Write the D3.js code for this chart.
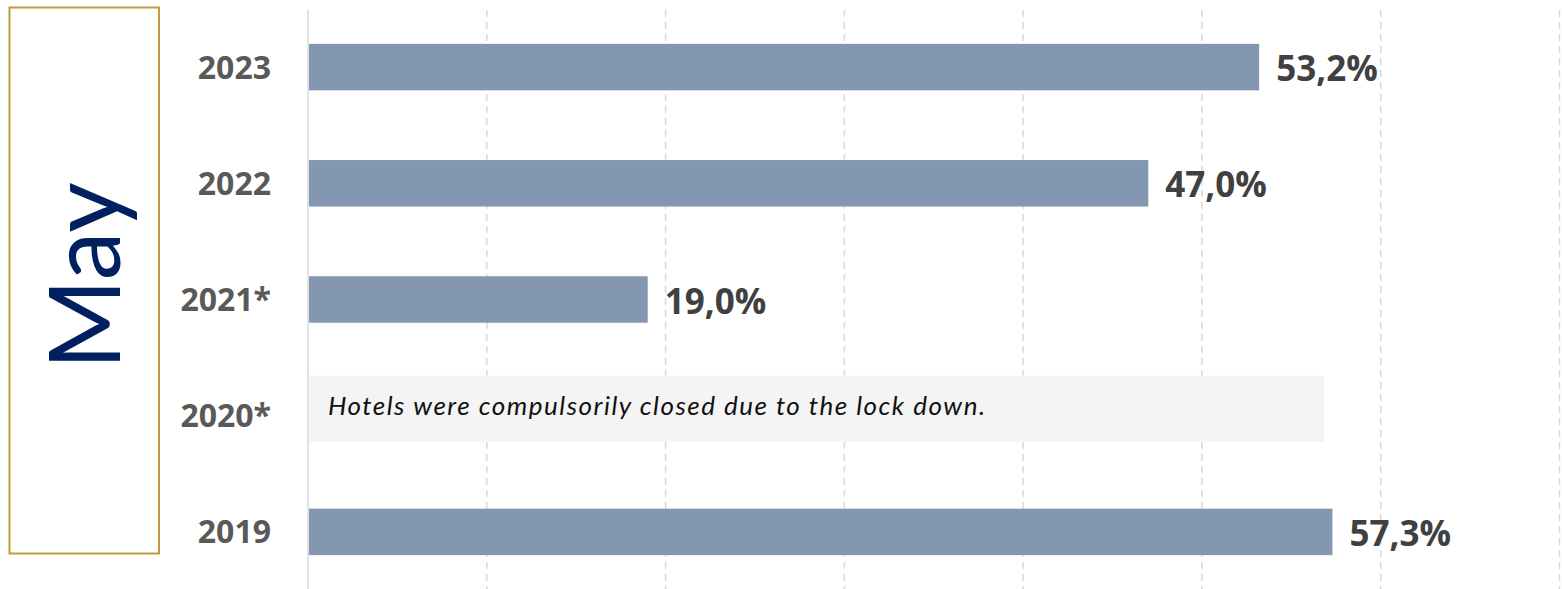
<!DOCTYPE html>
<html>
<head>
<meta charset="utf-8">
<script src="https://cdn.jsdelivr.net/npm/d3@7"></script>
<style>
  html, body { margin: 0; padding: 0; background: #ffffff; }
  svg { display: block; }
</style>
</head>
<body>
<svg id="chart" width="1562" height="589"></svg>
<script>
// Occupancy for May, by year (percent). 2020 has no value: hotels were closed.
const years = ["2023", "2022", "2021*", "2020*", "2019"];
const values = [53.2, 47.0, 19.0, null, 57.3];
const valueLabels = ["53,2%", "47,0%", "19,0%", "", "57,3%"];
const gridTicks = [0, 10, 20, 30, 40, 50, 60, 70];
const monthTitle = "May";
const closedNote = "Hotels were compulsorily closed due to the lock down.";
const closedYear = "2020*";

const svg = d3.select("#chart");

const x = d3.scaleLinear().domain([0, 70]).range([308, 1559.5]);
const y = d3.scaleBand().domain(years).range([9, 590]).paddingInner(0.6).paddingOuter(0.3);

// Month panel on the left
svg.append("rect")
  .attr("x", 9.5).attr("y", 7.5).attr("width", 149.5).attr("height", 546)
  .attr("fill", "none").attr("stroke", "#C29A3E").attr("stroke-width", 2);

svg.append("text")
  .attr("transform", "translate(120,276) rotate(-90)")
  .attr("text-anchor", "middle")
  .attr("font-family", "Lato, 'Open Sans', sans-serif")
  .attr("font-size", 98)
  .attr("fill", "#002060")
  .text(monthTitle);

// Vertical gridlines
const grid = svg.append("g");
grid.selectAll("line").data(gridTicks).join("line")
  .attr("x1", d => x(d)).attr("x2", d => x(d))
  .attr("y1", 10).attr("y2", 589)
  .attr("stroke", "#d9d9d9")
  .attr("stroke-width", 1.5)
  .attr("stroke-dasharray", d => d === 0 ? null : "7,5");

// Note panel for the closed year
const cy = y(closedYear) + y.bandwidth() / 2;
svg.append("rect")
  .attr("x", x(0) + 1).attr("y", cy - 40)
  .attr("width", 1015).attr("height", 66)
  .attr("fill", "#f4f4f4");
svg.append("text")
  .attr("x", x(0) + 20).attr("y", cy - 1)
  .attr("font-family", "Lato, sans-serif")
  .attr("font-style", "italic")
  .attr("font-size", 26)
  .attr("fill", "#111111")
  .attr("textLength", 657)
  .attr("lengthAdjust", "spacing")
  .text(closedNote);

// Bars
const rows = years.map((yr, i) => ({ year: yr, value: values[i], label: valueLabels[i] }));
const withValue = rows.filter(d => d.value != null);

svg.append("g").selectAll("rect").data(withValue).join("rect")
  .attr("x", x(0) + 1)
  .attr("y", d => y(d.year))
  .attr("width", d => x(d.value) - x(0) - 1)
  .attr("height", y.bandwidth())
  .attr("fill", "#8497B0");

// Value labels
svg.append("g").selectAll("text").data(withValue).join("text")
  .attr("x", d => x(d.value) + 17)
  .attr("y", d => y(d.year) + y.bandwidth() / 2 + 14)
  .attr("font-family", "'Open Sans', sans-serif")
  .attr("font-weight", 700)
  .attr("font-size", 35)
  .attr("fill", "#404040")
  .text(d => d.label);

// Year labels
svg.append("g").selectAll("text").data(rows).join("text")
  .attr("x", 271)
  .attr("y", d => y(d.year) + y.bandwidth() / 2 + 11.5)
  .attr("text-anchor", "end")
  .attr("font-family", "'Open Sans', sans-serif")
  .attr("font-weight", 700)
  .attr("font-size", 32)
  .attr("fill", "#595959")
  .text(d => d.year);
</script>
</body>
</html>
